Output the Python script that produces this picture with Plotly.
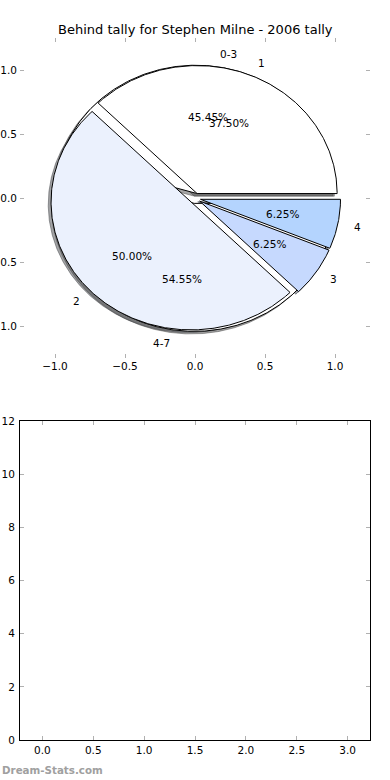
import numpy as np
import plotly.graph_objects as go

TITLE = "Behind tally for Stephen Milne - 2006 tally"
WATERMARK = "Dream-Stats.com"

# data
group_labels = ["0-3", "4-7"]
group_values = [5, 6]
tally_labels = ["1", "2", "3", "4"]
tally_values = [6, 8, 1, 1]

pie_xticks = [-1.0, -0.5, 0.0, 0.5, 1.0]
pie_yticks = [-1.0, -0.5, 0.0, 0.5, 1.0]
bar_xticks = [0.0, 0.5, 1.0, 1.5, 2.0, 2.5, 3.0]
bar_yticks = [0, 2, 4, 6, 8, 10, 12]

# styles
group_colors = [(255, 255, 255), (255, 255, 255)]
tally_colors = [(255, 255, 255), (235, 241, 253), (198, 217, 254), (180, 212, 254)]
EXPLODE = 0.04
SHADOW_OFFSET = (-0.02, -0.02)
LABEL_DIST = 1.1
PCT_DIST = 0.6
FONT = "DejaVu Sans"

W, H = 390, 780


def dom_x(a, b):
    return [a / W, b / W]


def dom_y(top, bottom):
    return [1 - bottom / H, 1 - top / H]


def wedge_angles(values):
    total = float(sum(values))
    out, start = [], 0.0
    for v in values:
        frac = v / total
        end = start + 360.0 * frac
        out.append((start, end, frac))
        start = end
    return out


def wedge_xy(t1, t2, cx, cy, r=1.0):
    n = max(int(abs(t2 - t1) * 2), 4)
    th = np.radians(np.linspace(t1, t2, n + 1))
    xs = np.concatenate([[cx], cx + r * np.cos(th), [cx]])
    ys = np.concatenate([[cy], cy + r * np.sin(th), [cy]])
    return xs, ys


def rgb(c, a=1.0):
    return "rgba(%d,%d,%d,%.3f)" % (c[0], c[1], c[2], a)


pies = [
    (group_labels, group_values, group_colors),
    (tally_labels, tally_values, tally_colors),
]

fig = go.Figure()
shadow_traces, wedge_traces, annotations = [], [], []

for labels, values, colors in pies:
    for (t1, t2, frac), lab, col in zip(wedge_angles(values), labels, colors):
        mid = np.radians((t1 + t2) / 2.0)
        cx, cy = EXPLODE * np.cos(mid), EXPLODE * np.sin(mid)
        xs, ys = wedge_xy(t1, t2, cx, cy)
        sc = tuple(v * 0.3 for v in col)
        shadow_traces.append(go.Scatter(
            x=xs + SHADOW_OFFSET[0], y=ys + SHADOW_OFFSET[1], mode="lines",
            fill="toself", fillcolor=rgb(sc, 0.5),
            line=dict(color=rgb(sc, 0.5), width=1),
            hoverinfo="skip", showlegend=False, xaxis="x", yaxis="y"))
        wedge_traces.append(go.Scatter(
            x=xs, y=ys, mode="lines", fill="toself", fillcolor=rgb(col),
            line=dict(color="black", width=1),
            name=lab, hoverinfo="name", showlegend=False, xaxis="x", yaxis="y"))
        lx = cx + LABEL_DIST * np.cos(mid)
        ly = cy + LABEL_DIST * np.sin(mid)
        annotations.append(dict(
            x=lx, y=ly, xref="x", yref="y", text=lab, showarrow=False,
            xanchor="left" if lx > 0 else "right", yanchor="middle",
            font=dict(family=FONT, size=10.5, color="black")))
        px_ = cx + PCT_DIST * np.cos(mid)
        py_ = cy + PCT_DIST * np.sin(mid)
        annotations.append(dict(
            x=px_, y=py_, xref="x", yref="y", text="%.2f%%" % (frac * 100),
            showarrow=False, xanchor="center", yanchor="middle",
            font=dict(family=FONT, size=10.5, color="black")))

for t in shadow_traces + wedge_traces:
    fig.add_trace(t)

fig.add_trace(go.Scatter(x=[], y=[], xaxis="x2", yaxis="y2", showlegend=False))

annotations.append(dict(
    x=0.5, y=1 - 30 / H, xref="paper", yref="paper", text=TITLE,
    showarrow=False, xanchor="center", yanchor="middle",
    font=dict(family=FONT, size=13, color="black")))
annotations.append(dict(
    x=0, y=1 - 770 / H, xref="paper", yref="paper", text="<b>" + WATERMARK + "</b>",
    showarrow=False, xanchor="left", yanchor="middle",
    font=dict(family=FONT, size=10.3, color="#a0a0a0")))

tick_common = dict(ticks="inside", ticklen=4, tickwidth=1, tickcolor="#b0b0b0",
                   showgrid=False, zeroline=False, automargin=False,
                   tickfont=dict(family=FONT, size=10.5, color="black"))

fig.update_layout(
    template="none",
    width=W, height=H, margin=dict(l=0, r=0, t=0, b=0, pad=0),
    paper_bgcolor="white", plot_bgcolor="white", showlegend=False,
    annotations=annotations,
    xaxis=dict(domain=dom_x(20, 370), range=[-1.25, 1.25], tickvals=pie_xticks,
               tickformat=".1f", showline=False, mirror="ticks", anchor="y",
               **tick_common),
    yaxis=dict(domain=dom_y(38.3, 358.3), range=[-1.25, 1.25], tickvals=pie_yticks,
               tickformat=".1f", showline=False, mirror="ticks", anchor="x",
               ticklabelstandoff=2, **tick_common),
    xaxis2=dict(domain=dom_x(20, 370), range=[-0.22, 3.22], tickvals=bar_xticks,
                tickformat=".1f", showline=True, linecolor="black", linewidth=1,
                mirror="ticks", anchor="y2", **tick_common),
    yaxis2=dict(domain=dom_y(421, 740), range=[0, 12], tickvals=bar_yticks,
                showline=True, linecolor="black", linewidth=1,
                mirror="ticks", anchor="x2", ticklabelstandoff=2, **tick_common),
)

fig.write_html(
    "out.html",
    config={"displayModeBar": False},
    post_script="document.body.style.margin='0px';document.body.style.padding='0px';",
)
